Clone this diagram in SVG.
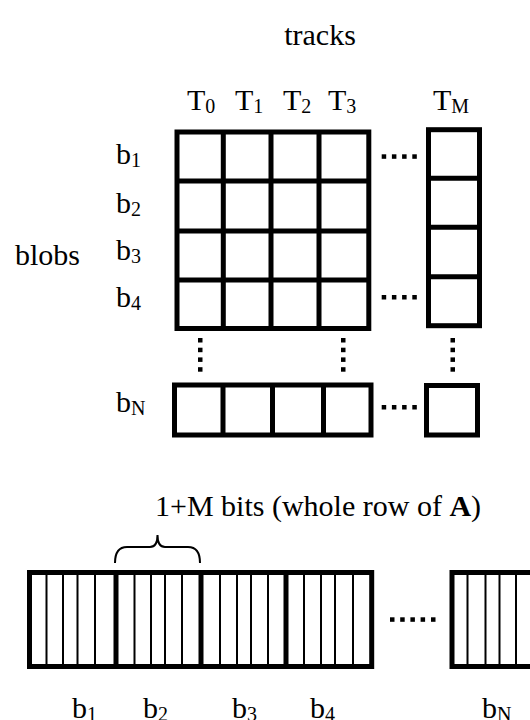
<svg xmlns="http://www.w3.org/2000/svg" width="530" height="720" viewBox="0 0 530 720">
<style>
.t{font-family:"Liberation Serif","Times New Roman",serif;font-size:30px;fill:#000}
.s{font-size:20px}
.box{fill:none;stroke:#000;stroke-width:5}
.thick{stroke:#000;stroke-width:5;fill:none}
.thin{stroke:#000;stroke-width:2;fill:none}
.dot{fill:#000}
</style>
<rect width="530" height="720" fill="#fff"/>
<g id="labels">
<text class="t" x="320" y="45" text-anchor="middle">tracks</text>
<text class="t" x="15" y="265">blobs</text>
<text class="t" x="187" y="110">T<tspan class="s" dy="3">0</tspan></text>
<text class="t" x="235" y="110">T<tspan class="s" dy="3">1</tspan></text>
<text class="t" x="283" y="110">T<tspan class="s" dy="3">2</tspan></text>
<text class="t" x="328" y="110">T<tspan class="s" dy="3">3</tspan></text>
<text class="t" x="433" y="110">T<tspan class="s" dy="3">M</tspan></text>
<text class="t" x="116" y="164">b<tspan class="s" dy="3">1</tspan></text>
<text class="t" x="116" y="213">b<tspan class="s" dy="3">2</tspan></text>
<text class="t" x="116" y="260">b<tspan class="s" dy="3">3</tspan></text>
<text class="t" x="116" y="307">b<tspan class="s" dy="3">4</tspan></text>
<text class="t" x="116" y="412">b<tspan class="s" dy="3">N</tspan></text>
</g>
<g id="matrix">
<rect class="box" x="177" y="132" width="191.8" height="196.5"/>
<path class="thick" d="M223.3,132V328.5M271,132V328.5M319,132V328.5M177,181H368.8M177,231H368.8M177,280H368.8"/>
<rect class="box" x="428.5" y="129.7" width="51" height="196"/>
<path class="thick" d="M428.5,178.3H479.5M428.5,227.3H479.5M428.5,276.7H479.5"/>
<rect class="box" x="174.5" y="385" width="196.5" height="50"/>
<path class="thick" d="M223,385V435M272.5,385V435M323.5,385V435"/>
<rect class="box" x="426.5" y="385.5" width="51" height="49.5"/>
</g>
<g id="dots">
<rect class="dot" x="381.7" y="154.3" width="4.5" height="4.5"/>
<rect class="dot" x="391.9" y="154.3" width="4.5" height="4.5"/>
<rect class="dot" x="402.1" y="154.3" width="4.5" height="4.5"/>
<rect class="dot" x="412.3" y="154.3" width="4.5" height="4.5"/>
<rect class="dot" x="381.7" y="295" width="4.5" height="4.5"/>
<rect class="dot" x="391.9" y="295" width="4.5" height="4.5"/>
<rect class="dot" x="402.1" y="295" width="4.5" height="4.5"/>
<rect class="dot" x="412.3" y="295" width="4.5" height="4.5"/>
<rect class="dot" x="381.7" y="405" width="4.5" height="4.5"/>
<rect class="dot" x="391.9" y="405" width="4.5" height="4.5"/>
<rect class="dot" x="402.1" y="405" width="4.5" height="4.5"/>
<rect class="dot" x="412.3" y="405" width="4.5" height="4.5"/>
<rect class="dot" x="198" y="338" width="4.5" height="4.5"/>
<rect class="dot" x="198" y="347.7" width="4.5" height="4.5"/>
<rect class="dot" x="198" y="357.4" width="4.5" height="4.5"/>
<rect class="dot" x="198" y="367.2" width="4.5" height="4.5"/>
<rect class="dot" x="341" y="338" width="4.5" height="4.5"/>
<rect class="dot" x="341" y="347.7" width="4.5" height="4.5"/>
<rect class="dot" x="341" y="357.4" width="4.5" height="4.5"/>
<rect class="dot" x="341" y="367.2" width="4.5" height="4.5"/>
<rect class="dot" x="450.5" y="338" width="4.5" height="4.5"/>
<rect class="dot" x="450.5" y="347.7" width="4.5" height="4.5"/>
<rect class="dot" x="450.5" y="357.4" width="4.5" height="4.5"/>
<rect class="dot" x="450.5" y="367.2" width="4.5" height="4.5"/>
<rect class="dot" x="390" y="617.3" width="4.5" height="4.5"/>
<rect class="dot" x="400.2" y="617.3" width="4.5" height="4.5"/>
<rect class="dot" x="410.4" y="617.3" width="4.5" height="4.5"/>
<rect class="dot" x="420.6" y="617.3" width="4.5" height="4.5"/>
<rect class="dot" x="431" y="617.3" width="4.5" height="4.5"/>
</g>
<g id="bitstring">
<text class="t" x="155" y="516">1+M bits (whole row of <tspan font-weight="bold">A</tspan>)</text>
<path class="thin" stroke-width="1.8" d="M115,563Q115,547 127,547L150,547Q157.5,547 157.5,535Q157.5,547 165,547L188,547Q200,547 200,563"/>
<rect class="box" x="29.5" y="572.5" width="342.2" height="94"/>
<path class="thin" d="M46.5,572.5V666.5M63,572.5V666.5M77.5,572.5V666.5M95,572.5V666.5M134.5,572.5V666.5M151,572.5V666.5M165,572.5V666.5M182,572.5V666.5M220,572.5V666.5M237,572.5V666.5M251,572.5V666.5M268,572.5V666.5M304,572.5V666.5M321,572.5V666.5M335,572.5V666.5M353,572.5V666.5"/>
<path class="thick" stroke-width="8" d="M116,570V669M201,570V669M286,570V669"/>
<rect class="box" x="452" y="572.5" width="90" height="94"/>
<path class="thin" d="M467.5,572.5V666.5M485.5,572.5V666.5M499.5,572.5V666.5M516,572.5V666.5"/>
<text class="t" x="72" y="718">b<tspan class="s" dy="3">1</tspan></text>
<text class="t" x="143" y="718">b<tspan class="s" dy="3">2</tspan></text>
<text class="t" x="232" y="718">b<tspan class="s" dy="3">3</tspan></text>
<text class="t" x="310" y="718">b<tspan class="s" dy="3">4</tspan></text>
<text class="t" x="482" y="718">b<tspan class="s" dy="3">N</tspan></text>
</g>
</svg>
